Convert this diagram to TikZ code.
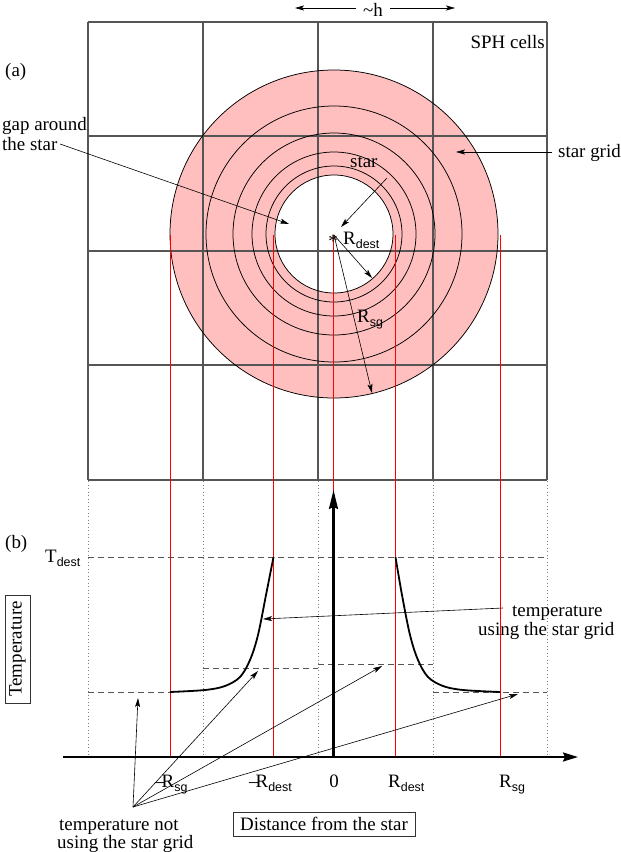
\documentclass[tikz,border=0pt]{standalone}
\usepackage{fontspec}
\setmainfont{Liberation Serif}
\setsansfont{Liberation Sans}
\usetikzlibrary{arrows.meta}
\definecolor{pinkfill}{RGB}{255,191,191}
\definecolor{gridgray}{RGB}{85,85,85}
\newcommand{\subsc}[1]{\raisebox{-5pt}{\fontsize{12.5}{12.5}\sffamily #1}}
\begin{document}
\begin{tikzpicture}[x=1bp,y=-1bp,
  lbl/.style={inner sep=0pt, font=\fontsize{19}{19}\selectfont},
  gridline/.style={draw=gridgray, line width=1.2bp},
  ring/.style={draw=black, line width=0.75bp},
  redline/.style={draw=red, line width=1.5bp},
  ptr/.style={draw=black, line width=0.6bp, -{Stealth[length=9bp,width=5bp,inset=2bp]}},
  dotline/.style={draw=gray, line width=0.9bp, dash pattern=on 1bp off 2.5bp},
  dashline/.style={draw=gridgray, line width=0.9bp, dash pattern=on 6bp off 4bp},
  curveline/.style={draw=black, line width=1.8bp},
  axisline/.style={draw=black, line width=2.2bp},
  framebox/.style={draw=black!80, line width=0.8bp, inner sep=0pt, font=\fontsize{19}{19}\selectfont}
]
\useasboundingbox (0,0) rectangle (621,852);
\fill[white] (0,0) rectangle (621,852);

% ---------- (a) ----------
\coordinate (C) at (334,234);
\fill[pinkfill, even odd rule] (C) circle[radius=164bp] (C) circle[radius=59bp];
\foreach \x in {88,203,318,433,547} \draw[gridline] (\x,22) -- (\x,480);
\foreach \y in {22,136,251,365,480} \draw[gridline] (88,\y) -- (547,\y);
\foreach \r in {164,128,101,82,68,59} \draw[ring] (C) circle[radius=\r bp];
\foreach \x in {170.5,273.5,395.5,500.5} \draw[redline] (\x,235) -- (\x,757);
\draw[redline] (333.5,235) -- (333.5,495);

\node[lbl, anchor=base] (h) at (373,16) {\textasciitilde h};
\coordinate (hl) at (295,8);
\coordinate (hr) at (455,8);
\draw[ptr] (356,8) -- (hl);
\draw[ptr] (390,8) -- (hr);

\node[lbl, anchor=base east] (sph) at (545,48) {SPH cells};
\node[lbl, anchor=base west] (la) at (5,76) {(a)};

\node[lbl, anchor=base west] (gap1) at (2,130) {gap around};
\node[lbl, anchor=base west] (gap2) at (2,150) {the star};
\coordinate (gapS) at (60,144);
\coordinate (gapE) at (289,224);
\draw[ptr] (gapS) -- (gapE);

\node[inner sep=0pt, font=\fontsize{19}{19}\selectfont, anchor=base] (ast) at (333,247) {*};
\coordinate (starpt) at (334,235);
\node[lbl, anchor=base west] (starlbl) at (350,167) {star};
\coordinate (starS) at (387,178);
\draw[ptr] (starS) -- (341,227);

\node[lbl, anchor=base west] (gridlbl) at (558,157) {star grid};
\coordinate (gridS) at (552,152);
\coordinate (gridE) at (456,152);
\draw[ptr] (gridS) -- (gridE);

\node[lbl, anchor=base west] (rdest) at (343,244) {R\subsc{dest}};
\coordinate (rdE) at (372,278);
\draw[ptr] (starpt) -- (rdE);
\node[lbl, anchor=base west] (rsg) at (357,322) {R\subsc{sg}};
\coordinate (rsE) at (372,393);
\draw[ptr] (starpt) -- (rsE);

% ---------- (b) ----------
\foreach \x in {88,203,318,433,547} \draw[dotline] (\x,481) -- (\x,757);
\draw[dashline] (88,557) -- (547,557);
\draw[dashline] (203,668) -- (318,668);
\draw[dashline] (318,664) -- (433,664);
\draw[dashline] (88,692) -- (170,692);
\draw[dashline] (433,692) -- (547,692);

\draw[curveline] plot[smooth, tension=0.55] coordinates {(273.5,557) (266,595) (258,635) (250,660) (240,677) (225,686) (205,690) (170,692)};
\draw[curveline] plot[smooth, tension=0.55] coordinates {(395.5,557) (402,595) (410,635) (418,660) (428,677) (443,686) (463,690) (500,692)};

\coordinate (xa0) at (63,757);
\coordinate (xa1) at (578,757);
\draw[axisline, -{Stealth[length=15bp,width=9bp,inset=2bp]}] (xa0) -- (xa1);
\coordinate (ya0) at (333.5,757);
\coordinate (ya1) at (333.5,490);
\draw[axisline, -{Stealth[length=19bp,width=9bp,inset=2bp]}] (ya0) -- (ya1);

\node[lbl, anchor=base west] (lb) at (5,548) {(b)};
\node[lbl, anchor=base west] (tdest) at (45,562) {T\subsc{dest}};

\node[lbl, anchor=base west] (t1) at (155,787) {--\kern-3pt R\subsc{sg}};
\node[lbl, anchor=base west] (t2) at (249,787) {--\kern-3pt R\subsc{dest}};
\node[lbl, anchor=base] (t3) at (334,787) {0};
\node[lbl, anchor=base west] (t4) at (388,787) {R\subsc{dest}};
\node[lbl, anchor=base west] (t5) at (499,787) {R\subsc{sg}};

\node[lbl, anchor=base west] (use1) at (512,616) {temperature};
\node[lbl, anchor=base west] (use2) at (478,635) {using the star grid};
\coordinate (useS) at (503,608);
\coordinate (useE) at (263,619);
\draw[ptr] (useS) -- (useE);

\node[lbl, anchor=base west] (not1) at (59,830) {temperature not};
\node[lbl, anchor=base west] (not2) at (57,848) {using the star grid};
\coordinate (notS) at (133,807);
\coordinate (n1) at (138,698);
\coordinate (n2) at (258,671);
\coordinate (n3) at (382,666);
\coordinate (n4) at (518,694);
\foreach \e in {n1,n2,n3,n4} \draw[ptr] (notS) -- (\e);

\node[framebox, minimum width=182bp, minimum height=24bp] (dist) at (324,824) {Distance from the star};
\node[framebox, rotate=90, minimum width=108bp, minimum height=25bp] (temp) at (17.5,649) {Temperature};
\end{tikzpicture}
\end{document}
